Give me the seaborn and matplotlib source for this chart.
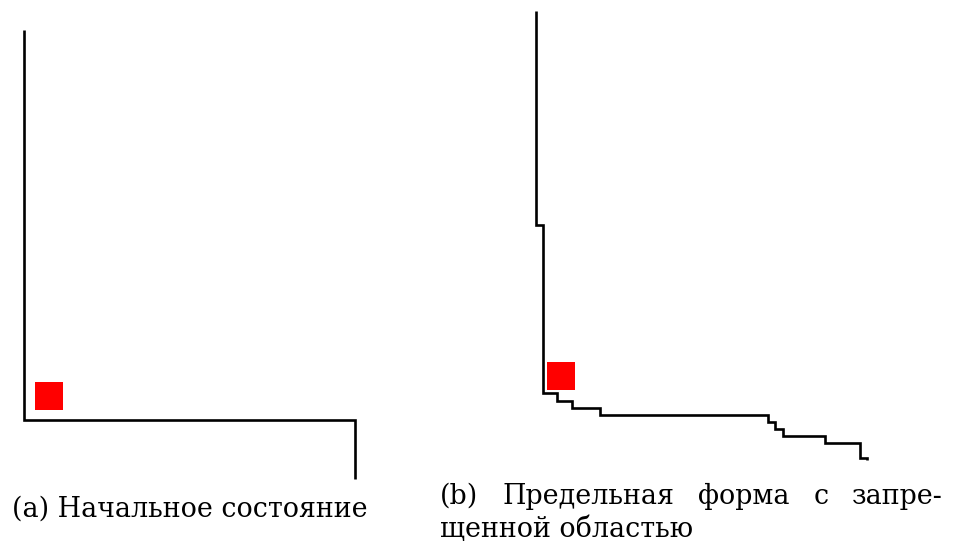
import matplotlib
matplotlib.use('Agg')
import matplotlib.pyplot as plt
import seaborn as sns
import pandas as pd
from matplotlib.patches import Rectangle

# outline of the initial state (page pixels, y grows downward)
initial_x = [24, 24, 355, 355]
initial_y = [30, 420, 420, 479]

# outline of the limit shape
limit_x = [536, 536, 543, 543, 557, 557, 572, 572, 600, 600, 768, 768,
           775, 775, 783, 783, 825, 825, 860, 860, 867, 867]
limit_y = [11, 225, 225, 393, 393, 401, 401, 408, 408, 415, 415, 422,
           422, 429, 429, 436, 436, 443, 443, 458, 458, 460]

# forbidden region (red square): left, top, side
forbidden_a = (35, 382, 28)
forbidden_b = (547, 362, 28)

caption_a = '(a) Начальное состояние'
caption_b1 = ['(b)', 'Предельная', 'форма', 'с', 'запре-']
caption_b2 = 'щенной областью'

sns.set_style('white')
fig = plt.figure(figsize=(9.56, 5.44), dpi=100)
ax = fig.add_axes([0, 0, 1, 1])

df_a = pd.DataFrame({'x': initial_x, 'y': initial_y})
df_b = pd.DataFrame({'x': limit_x, 'y': limit_y})
for df in (df_a, df_b):
    sns.lineplot(data=df, x='x', y='y', sort=False, estimator=None, ax=ax,
                 color='black', lw=1.9, solid_joinstyle='miter', solid_capstyle='butt')

for (l, t, s) in (forbidden_a, forbidden_b):
    ax.add_patch(Rectangle((l, t), s, s, color='red', lw=0))

ax.set_xlim(0, 956)
ax.set_ylim(544, 0)
ax.axis('off')

serif = ['DejaVu Serif']
renderer = fig.canvas.get_renderer()
ta = ax.text(12, 517, caption_a, fontsize=18, family=serif, va='baseline', color='black')
w = ta.get_window_extent(renderer).width
fs = 18 * 356 / w
ta.set_fontsize(fs)

# justified first line of caption (b), from 440 to 943
words = [ax.text(440, 504, s, fontsize=fs, family=serif, va='baseline', color='black')
         for s in caption_b1]
widths = [t.get_window_extent(renderer).width for t in words]
gap = (943 - 440 - sum(widths)) / (len(words) - 1)
x = 440
for t, wd in zip(words, widths):
    t.set_x(x)
    x += wd + gap
ax.text(440, 537, caption_b2, fontsize=fs, family=serif, va='baseline', color='black')

fig.savefig('out.png', dpi=100)
